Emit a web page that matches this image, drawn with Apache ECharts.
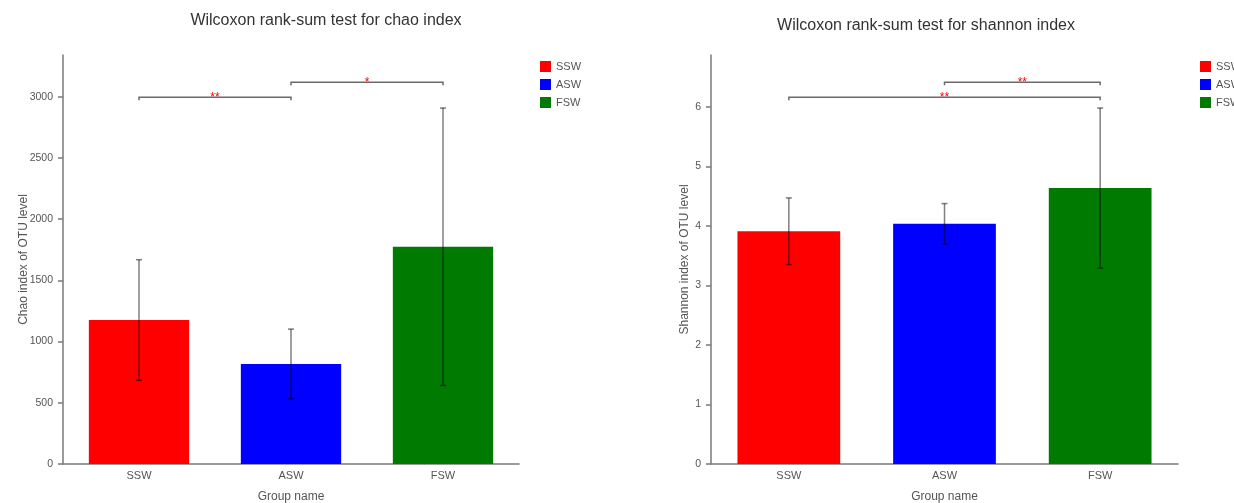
<!DOCTYPE html>
<html>
<head>
<meta charset="utf-8">
<script src="https://cdn.jsdelivr.net/npm/echarts@6/dist/echarts.min.js"></script>
<style>
  html, body { margin: 0; padding: 0; background: #fff; }
  #chart { width: 1234px; height: 503px; }
</style>
</head>
<body>
<div id="chart"></div>
<script>
// ---- data ----
const groups = ['SSW', 'ASW', 'FSW'];
const chaoMean = [1176, 817, 1775];
const chaoSd = [493, 285, 1133];
const shannonMean = [3.91, 4.035, 4.635];
const shannonSd = [0.56, 0.34, 1.345];
const chaoTicks = [0, 500, 1000, 1500, 2000, 2500, 3000];
const shannonTicks = [0, 1, 2, 3, 4, 5, 6];
const chaoSig = [['SSW', 'ASW', '**'], ['ASW', 'FSW', '*']];
const shannonSig = [['SSW', 'FSW', '**'], ['ASW', 'FSW', '**']];
const chaoTitle = 'Wilcoxon rank-sum test for chao index';
const shannonTitle = 'Wilcoxon rank-sum test for shannon index';
const chaoYName = 'Chao index of OTU level';
const shannonYName = 'Shannon index of OTU level';
const xName = 'Group name';

// ---- style ----
const colors = ['#ff0000', '#0000ff', '#007a00'];
const FONT = 'Liberation Sans, Arial, sans-serif';
const axisColor = '#7a7a7a';
const textColor = '#555';

function topOf(mean, sd) {
  return Math.max(...mean.map((m, i) => m + sd[i]));
}

function buildPanel(idx, mean, sd, ticks, sig, yName, nameGap) {
  const top = topOf(mean, sd);
  const yMax = top * 1.149;
  const xAxis = {
    type: 'category', gridIndex: idx, data: groups,
    axisLine: { lineStyle: { color: axisColor, width: 1.5 } },
    axisTick: { alignWithLabel: true, length: 4, lineStyle: { color: axisColor, width: 1.5 } },
    axisLabel: { fontSize: 11, color: textColor, fontFamily: FONT, margin: 6 },
    name: xName, nameLocation: 'middle', nameGap: 27, nameMoveOverlap: false,
    nameTextStyle: { fontSize: 12, color: textColor, fontFamily: FONT }
  };
  const yAxis = {
    type: 'value', gridIndex: idx, min: 0, max: yMax,
    splitLine: { show: false },
    axisLine: { show: true, lineStyle: { color: axisColor, width: 1.5 } },
    axisTick: { show: true, length: 5, customValues: ticks, lineStyle: { color: axisColor, width: 1.5 } },
    axisLabel: { fontSize: 10.5, color: textColor, fontFamily: FONT, margin: 10, customValues: ticks,
                 formatter: function (v) { return String(v); } },
    name: yName, nameLocation: 'middle', nameGap: nameGap, nameMoveOverlap: false,
    nameTextStyle: { fontSize: 12, color: textColor, fontFamily: FONT }
  };
  const series = [];
  groups.forEach((g, i) => {
    series.push({
      type: 'bar', name: g, stack: 'p' + idx, xAxisIndex: idx, yAxisIndex: idx,
      barWidth: '66%',
      itemStyle: { color: colors[i] },
      data: groups.map((_, j) => (j === i ? mean[j] : '-'))
    });
  });
  series.push({
    type: 'custom', xAxisIndex: idx, yAxisIndex: idx, z: 10,
    encode: { x: 0, y: [1, 2] },
    data: groups.map((g, i) => [i, mean[i] - sd[i], mean[i] + sd[i]]),
    renderItem: function (params, api) {
      const lo = api.coord([api.value(0), api.value(1)]);
      const hi = api.coord([api.value(0), api.value(2)]);
      const st = { stroke: 'rgba(0,0,0,0.5)', lineWidth: 1.5 };
      const c = 3;
      return {
        type: 'group', children: [
          { type: 'line', shape: { x1: lo[0], y1: lo[1], x2: hi[0], y2: hi[1] }, style: st },
          { type: 'line', shape: { x1: lo[0] - c, y1: lo[1], x2: lo[0] + c, y2: lo[1] }, style: st },
          { type: 'line', shape: { x1: hi[0] - c, y1: hi[1], x2: hi[0] + c, y2: hi[1] }, style: st }
        ]
      };
    }
  });
  series.push({
    type: 'custom', xAxisIndex: idx, yAxisIndex: idx, z: 11,
    encode: { x: [0, 1], y: 2 },
    data: sig.map((s, k) => [groups.indexOf(s[0]), groups.indexOf(s[1]), top * 1.03 + k * top * 0.0425]),
    renderItem: function (params, api) {
      const p1 = api.coord([api.value(0), api.value(2)]);
      const p2 = api.coord([api.value(1), api.value(2)]);
      const label = sig[params.dataIndex][2];
      return {
        type: 'group', children: [
          { type: 'polyline', shape: { points: [[p1[0], p1[1] + 3], [p1[0], p1[1]], [p2[0], p2[1]], [p2[0], p2[1] + 3]] },
            style: { stroke: '#6a6a6a', lineWidth: 1.5, fill: null } },
          { type: 'text', x: (p1[0] + p2[0]) / 2, y: p1[1] + 0.5,
            style: { text: label, fill: '#ff0000', fontSize: 12, fontFamily: FONT, align: 'center', verticalAlign: 'middle' } }
        ]
      };
    }
  });
  return { xAxis, yAxis, series };
}

const L = buildPanel(0, chaoMean, chaoSd, chaoTicks, chaoSig, chaoYName, 33);
const R = buildPanel(1, shannonMean, shannonSd, shannonTicks, shannonSig, shannonYName, 20);

const legendCommon = {
  orient: 'vertical', data: groups, icon: 'rect', itemWidth: 11, itemHeight: 11, itemGap: 7,
  padding: 0, selectedMode: false,
  textStyle: { fontSize: 11, color: textColor, fontFamily: FONT }
};

const chart = echarts.init(document.getElementById('chart'), null, { renderer: 'canvas' });
chart.setOption({
  backgroundColor: '#fff',
  animation: false,
  textStyle: { fontFamily: FONT },
  grid: [
    { left: 63, top: 55, width: 456, height: 409, containLabel: false, outerBoundsMode: 'none' },
    { left: 711, top: 55, width: 467, height: 409, containLabel: false, outerBoundsMode: 'none' }
  ],
  legend: [
    Object.assign({ left: 540, top: 61 }, legendCommon),
    Object.assign({ left: 1200, top: 61 }, legendCommon)
  ],
  graphic: [
    { type: 'text', x: 326, y: 21, style: { text: chaoTitle, fontSize: 16, fill: '#333', fontFamily: FONT, align: 'center', verticalAlign: 'middle' } },
    { type: 'text', x: 926, y: 26, style: { text: shannonTitle, fontSize: 16, fill: '#333', fontFamily: FONT, align: 'center', verticalAlign: 'middle' } }
  ],
  xAxis: [L.xAxis, R.xAxis],
  yAxis: [L.yAxis, R.yAxis],
  series: L.series.concat(R.series)
});
</script>
</body>
</html>
